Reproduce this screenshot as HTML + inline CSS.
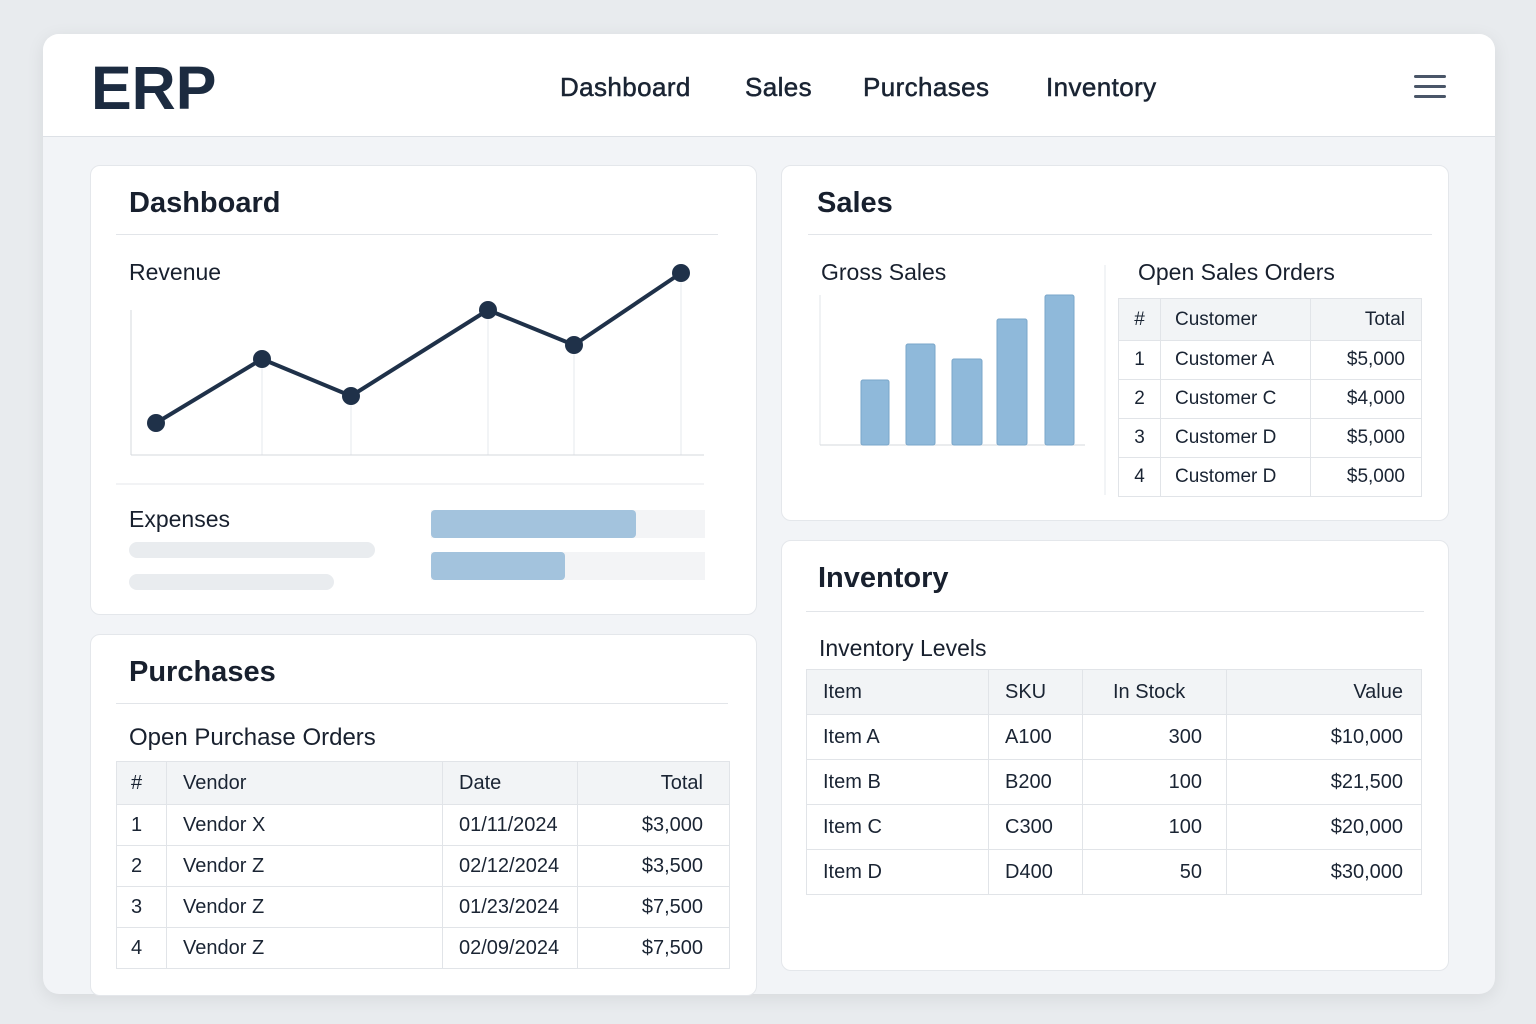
<!DOCTYPE html>
<html><head><meta charset="utf-8"><style>
*{box-sizing:border-box;margin:0;padding:0}
body{width:1536px;height:1024px;background:#e8ebee;font-family:"Liberation Sans",sans-serif;color:#1a2433;position:relative;overflow:hidden}
.abs{position:absolute}
.card{position:absolute;left:43px;top:34px;width:1452px;height:960px;border-radius:16px;background:#f2f4f7;box-shadow:0 4px 18px rgba(0,0,0,.08);overflow:hidden}
.hdr{position:absolute;left:0;top:0;width:1452px;height:103px;background:#fff;border-bottom:1px solid #dde1e6}
.panel{position:absolute;background:#fff;border-radius:10px;border:1px solid #e4e7eb}
.t{position:absolute;white-space:nowrap;line-height:1}
.h2{font-size:29px;font-weight:bold;color:#18202e}
.h3{font-size:23px;color:#18202e}
.nav{font-size:26px;color:#1a2433;letter-spacing:0.4px;-webkit-text-stroke:0.5px #1a2433}
.hr{position:absolute;height:1px;background:#e2e5e9}
table{position:absolute;border-collapse:collapse;background:#fff}
td{border:1.5px solid #e1e4e8;color:#1a2433;white-space:nowrap}
tr.h td{background:#f2f4f6}
.r{text-align:right}
</style></head><body>
<div class="card"></div>
<div class="hdr abs" style="left:43px;top:34px;border-radius:16px 16px 0 0"></div>
<div class="t" style="left:91px;top:58px;font-size:61px;font-weight:bold;color:#1c2b40">ERP</div>
<div class="t nav" style="left:560px;top:74px">Dashboard</div>
<div class="t nav" style="left:745px;top:74px">Sales</div>
<div class="t nav" style="left:863px;top:74px">Purchases</div>
<div class="t nav" style="left:1046px;top:74px">Inventory</div>
<div class="abs" style="left:1414px;top:75px;width:32px;height:3px;background:#4a5668;border-radius:2px"></div>
<div class="abs" style="left:1414px;top:85px;width:32px;height:3px;background:#4a5668;border-radius:2px"></div>
<div class="abs" style="left:1414px;top:95px;width:32px;height:3px;background:#4a5668;border-radius:2px"></div>

<div class="panel" style="left:90px;top:165px;width:667px;height:450px"></div>
<div class="panel" style="left:90px;top:634px;width:667px;height:362px"></div>
<div class="panel" style="left:781px;top:165px;width:668px;height:356px"></div>
<div class="panel" style="left:781px;top:540px;width:668px;height:431px"></div>

<!-- Dashboard -->
<div class="t h2" style="left:129px;top:189px">Dashboard</div>
<div class="hr" style="left:116px;top:234px;width:602px"></div>
<div class="t h3" style="left:129px;top:261px">Revenue</div>
<svg class="abs" style="left:0;top:0" width="1536" height="1024">
<g stroke="#e6e9ed" stroke-width="1">
<line x1="262" y1="359" x2="262" y2="455"/><line x1="351" y1="396" x2="351" y2="455"/><line x1="488" y1="310" x2="488" y2="455"/><line x1="574" y1="345" x2="574" y2="455"/><line x1="681" y1="273" x2="681" y2="455"/>
</g>
<line x1="131" y1="310" x2="131" y2="455" stroke="#d5d9de"/>
<line x1="131" y1="455" x2="704" y2="455" stroke="#d5d9de"/>
<polyline points="156,423 262,359 351,396 488,310 574,345 681,273" fill="none" stroke="#1f3149" stroke-width="4" stroke-linejoin="round"/>
<g fill="#1f3149"><circle cx="156" cy="423" r="9"/><circle cx="262" cy="359" r="9"/><circle cx="351" cy="396" r="9"/><circle cx="488" cy="310" r="9"/><circle cx="574" cy="345" r="9"/><circle cx="681" cy="273" r="9"/></g>
<line x1="116" y1="484" x2="704" y2="484" stroke="#e4e7eb"/>
<rect x="129" y="542" width="246" height="16" rx="8" fill="#e9ecef"/>
<rect x="129" y="574" width="205" height="16" rx="8" fill="#e9ecef"/>
<rect x="431" y="510" width="274" height="28" fill="#f3f4f6"/>
<rect x="431" y="552" width="274" height="28" fill="#f3f4f6"/>
<rect x="431" y="510" width="205" height="28" rx="4" fill="#a3c3dd"/>
<rect x="431" y="552" width="134" height="28" rx="4" fill="#a3c3dd"/>
<line x1="820" y1="295" x2="820" y2="445" stroke="#e2e5e9"/>
<line x1="820" y1="445" x2="1085" y2="445" stroke="#d5d9de"/>
<g fill="#8fb9da" stroke="#7aa6c9" stroke-width="1">
<rect x="861" y="380" width="28" height="65" rx="2"/><rect x="906" y="344" width="29" height="101" rx="2"/><rect x="952" y="359" width="30" height="86" rx="2"/><rect x="997" y="319" width="30" height="126" rx="2"/><rect x="1045" y="295" width="29" height="150" rx="2"/>
</g>
<line x1="1105" y1="265" x2="1105" y2="495" stroke="#e6e9ed"/>
</svg>
<div class="t h3" style="left:129px;top:508px">Expenses</div>

<!-- Sales -->
<div class="t h2" style="left:817px;top:189px">Sales</div>
<div class="hr" style="left:808px;top:234px;width:624px"></div>
<div class="t h3" style="left:821px;top:261px">Gross Sales</div>
<div class="t h3" style="left:1138px;top:261px">Open Sales Orders</div>
<table style="left:1118px;top:298px;width:304px;font-size:19px">
<tr class="h" style="height:42px"><td style="width:42px;text-align:center">#</td><td style="width:150px;padding-left:14px">Customer</td><td class="r" style="padding-right:16px">Total</td></tr>
<tr style="height:39px"><td style="text-align:center">1</td><td style="padding-left:14px">Customer A</td><td class="r" style="padding-right:16px">$5,000</td></tr>
<tr style="height:39px"><td style="text-align:center">2</td><td style="padding-left:14px">Customer C</td><td class="r" style="padding-right:16px">$4,000</td></tr>
<tr style="height:39px"><td style="text-align:center">3</td><td style="padding-left:14px">Customer D</td><td class="r" style="padding-right:16px">$5,000</td></tr>
<tr style="height:39px"><td style="text-align:center">4</td><td style="padding-left:14px">Customer D</td><td class="r" style="padding-right:16px">$5,000</td></tr>
</table>

<!-- Inventory -->
<div class="t h2" style="left:818px;top:564px">Inventory</div>
<div class="hr" style="left:806px;top:611px;width:618px"></div>
<div class="t h3" style="left:819px;top:637px">Inventory Levels</div>
<table style="left:806px;top:669px;width:616px;font-size:20px">
<tr class="h" style="height:45px"><td style="width:182px;padding-left:16px">Item</td><td style="width:94px;padding-left:16px">SKU</td><td style="width:144px;padding-left:30px">In Stock</td><td class="r" style="padding-right:18px">Value</td></tr>
<tr style="height:45px"><td style="padding-left:16px">Item A</td><td style="padding-left:16px">A100</td><td class="r" style="padding-right:24px">300</td><td class="r" style="padding-right:18px">$10,000</td></tr>
<tr style="height:45px"><td style="padding-left:16px">Item B</td><td style="padding-left:16px">B200</td><td class="r" style="padding-right:24px">100</td><td class="r" style="padding-right:18px">$21,500</td></tr>
<tr style="height:45px"><td style="padding-left:16px">Item C</td><td style="padding-left:16px">C300</td><td class="r" style="padding-right:24px">100</td><td class="r" style="padding-right:18px">$20,000</td></tr>
<tr style="height:45px"><td style="padding-left:16px">Item D</td><td style="padding-left:16px">D400</td><td class="r" style="padding-right:24px">50</td><td class="r" style="padding-right:18px">$30,000</td></tr>
</table>

<!-- Purchases -->
<div class="t h2" style="left:129px;top:658px">Purchases</div>
<div class="hr" style="left:116px;top:703px;width:612px"></div>
<div class="t h3" style="left:129px;top:726px;font-size:24px">Open Purchase Orders</div>
<table style="left:116px;top:761px;width:614px;font-size:20px">
<tr class="h" style="height:43px"><td style="width:50px;padding-left:14px">#</td><td style="width:276px;padding-left:16px">Vendor</td><td style="width:135px;padding-left:16px">Date</td><td class="r" style="padding-right:26px">Total</td></tr>
<tr style="height:41px"><td style="padding-left:14px">1</td><td style="padding-left:16px">Vendor X</td><td style="padding-left:16px">01/11/2024</td><td class="r" style="padding-right:26px">$3,000</td></tr>
<tr style="height:41px"><td style="padding-left:14px">2</td><td style="padding-left:16px">Vendor Z</td><td style="padding-left:16px">02/12/2024</td><td class="r" style="padding-right:26px">$3,500</td></tr>
<tr style="height:41px"><td style="padding-left:14px">3</td><td style="padding-left:16px">Vendor Z</td><td style="padding-left:16px">01/23/2024</td><td class="r" style="padding-right:26px">$7,500</td></tr>
<tr style="height:41px"><td style="padding-left:14px">4</td><td style="padding-left:16px">Vendor Z</td><td style="padding-left:16px">02/09/2024</td><td class="r" style="padding-right:26px">$7,500</td></tr>
</table>
</body></html>
